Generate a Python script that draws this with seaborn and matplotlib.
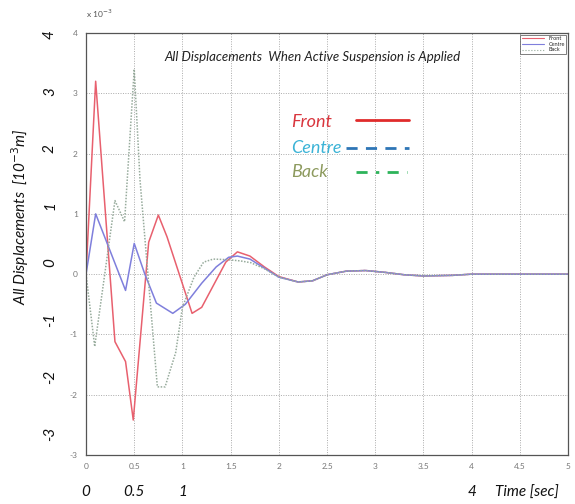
import numpy as np
import pandas as pd
import matplotlib.pyplot as plt
import seaborn as sns

# displacement traces (units of 1e-3 m)
t_front = [0.0, 0.1, 0.3, 0.41, 0.49, 0.65, 0.75, 0.84, 1.1, 1.2, 1.35, 1.45, 1.57, 1.7, 1.85, 2.0,
           2.2, 2.35, 2.5, 2.7, 2.9, 3.1, 3.3, 3.5, 3.8, 4.0, 4.5, 5.0]
front = [0.0, 3.2, -1.12, -1.45, -2.42, 0.53, 0.98, 0.62, -0.65, -0.55, -0.1, 0.2, 0.37, 0.3, 0.12, -0.04,
         -0.13, -0.11, -0.01, 0.05, 0.06, 0.03, -0.01, -0.03, -0.02, 0.0, 0.0, 0.0]

t_centre = [0.0, 0.1, 0.41, 0.5, 0.61, 0.73, 0.9, 1.03, 1.2, 1.35, 1.48, 1.57, 1.7, 1.85, 2.0,
            2.2, 2.35, 2.5, 2.7, 2.9, 3.1, 3.3, 3.5, 3.8, 4.0, 4.5, 5.0]
centre = [0.0, 1.0, -0.27, 0.51, 0.0, -0.48, -0.65, -0.5, -0.15, 0.12, 0.28, 0.3, 0.25, 0.1, -0.05,
          -0.13, -0.11, -0.01, 0.05, 0.06, 0.03, -0.01, -0.03, -0.02, 0.0, 0.0, 0.0]

t_back = [0.0, 0.09, 0.3, 0.4, 0.5, 0.56, 0.74, 0.82, 0.93, 1.0, 1.12, 1.22, 1.32, 1.47, 1.6, 1.71, 1.85, 2.0,
          2.2, 2.35, 2.5, 2.7, 2.9, 3.1, 3.3, 3.5, 3.8, 4.0, 4.5, 5.0]
back = [0.0, -1.2, 1.22, 0.87, 3.4, 1.56, -1.87, -1.87, -1.3, -0.55, -0.05, 0.2, 0.25, 0.24, 0.22, 0.19, 0.09, -0.05,
        -0.13, -0.11, -0.01, 0.05, 0.06, 0.03, -0.01, -0.03, -0.02, 0.0, 0.0, 0.0]

x_ticks = [0, 0.5, 1, 1.5, 2, 2.5, 3, 3.5, 4, 4.5, 5]
y_ticks = [-3, -2, -1, 0, 1, 2, 3, 4]
big_x_labels = {0: "0", 0.5: "0.5", 1: "1", 4: "4"}


def build_frame():
    parts = []
    for name, t, v in [("Front", t_front, front), ("Centre", t_centre, centre), ("Back", t_back, back)]:
        parts.append(pd.DataFrame({"time": t, "disp": v, "series": name}))
    return pd.concat(parts, ignore_index=True)


def main():
    df = build_frame()
    sns.set_theme(style="white")
    plt.rcParams['font.family'] = ['Lato', 'DejaVu Sans']

    fig = plt.figure(figsize=(5.75, 5.04), dpi=100)
    ax = fig.add_axes([0.1496, 0.0972, 0.8384, 0.8373])

    palette = {"Front": "#e8606e", "Centre": "#7f7fdc", "Back": "#97ab9c"}
    sns.lineplot(data=df, x="time", y="disp", hue="series", style="series",
                 palette=palette, dashes={"Front": "", "Centre": "", "Back": (1, 1)},
                 estimator=None, sort=False, linewidth=1.1, ax=ax, legend=False)

    ax.set_xlim(0, 5)
    ax.set_ylim(-3, 4)
    ax.set_xticks(x_ticks)
    ax.set_yticks(y_ticks)
    ax.set_xticklabels([f"{v:g}" for v in x_ticks], fontsize=6, color="#777777")
    ax.set_yticklabels([f"{v:g}" for v in y_ticks], fontsize=6, color="#777777")
    ax.tick_params(axis="both", direction="in", length=3, pad=6, color="#666666")
    ax.grid(True, linestyle=(0, (1, 1.5)), color="#aaaaaa", linewidth=0.7)
    for s in ax.spines.values():
        s.set_color("#555555")
        s.set_linewidth(0.9)
    ax.set_xlabel("")
    ax.set_ylabel("")

    # small matlab style legend
    from matplotlib.lines import Line2D
    handles = [Line2D([], [], color=palette[k], lw=0.8, linestyle=":" if k == "Back" else "-") for k in palette]
    leg = ax.legend(handles, list(palette), loc="upper right", fontsize=4, handlelength=4,
                    borderpad=0.3, labelspacing=0.1, frameon=True, fancybox=False,
                    edgecolor="#444444", borderaxespad=0.3)
    leg.get_frame().set_linewidth(0.6)

    ax.text(-0.0, 1.035, r"x 10$^{-3}$", transform=ax.transAxes, fontsize=6, color="#555555")
    ax.text(0.47, 0.943, "All Displacements  When Active Suspension is Applied", transform=ax.transAxes,
            ha="center", va="center", fontsize=9.5, style="italic", color="#222222")

    # overlay legend drawn inside the axes
    ax.text(0.425, 0.789, "Front", transform=ax.transAxes, fontsize=13, style="italic",
            color="#d9363e", va="center")
    ax.text(0.425, 0.727, "Centre", transform=ax.transAxes, fontsize=13, style="italic",
            color="#3bb3d6", va="center")
    ax.text(0.425, 0.671, "Back", transform=ax.transAxes, fontsize=13, style="italic",
            color="#8d9a5e", va="center")
    ax.plot([0.56, 0.671], [0.794, 0.794], transform=ax.transAxes, color="#e02b2b", lw=2)
    ax.plot([0.54, 0.671], [0.727, 0.727], transform=ax.transAxes, color="#2e75b6", lw=2, dashes=(4, 3))
    ax.plot([0.56, 0.665], [0.671, 0.671], transform=ax.transAxes, color="#2db35a", lw=2, dashes=(4, 3, 1.2, 3))

    # large italic overlay tick labels
    for v in y_ticks:
        y_px = 35 + (4 - v) * 57.0
        fig.text(0.087, 1 - y_px / 504, str(v), rotation=90, fontsize=11, style="italic",
                 color="#111111", ha="center", va="center")
    for v, lab in big_x_labels.items():
        ax.text(v, -3.62, lab, fontsize=11, style="italic", color="#111111", ha="center", va="center")
    ax.text(4.9, -3.62, "Time [sec]", fontsize=11, style="italic", color="#111111", ha="right", va="center")
    fig.text(0.035, 0.57, r"All Displacements  [10$^{-3}$m]", rotation=90, fontsize=11, style="italic",
             color="#111111", ha="center", va="center")

    fig.savefig("out.png", dpi=100)


if __name__ == "__main__":
    main()
